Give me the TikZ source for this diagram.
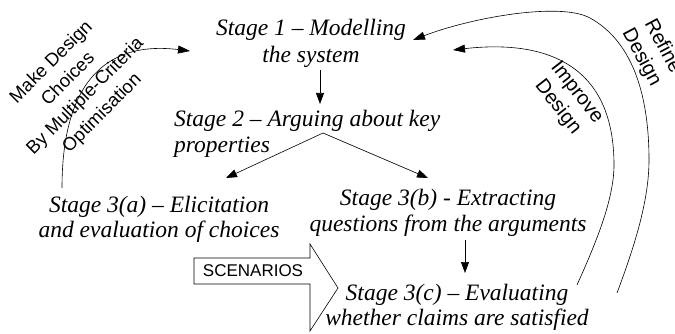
\documentclass[tikz,border=0pt]{standalone}
\usepackage{fontspec}
\setmainfont{Liberation Serif}
\newfontfamily\labelsans{Liberation Sans}
\usetikzlibrary{arrows.meta}

\begin{document}
\begin{tikzpicture}[x=1pt,y=-1pt,
  stage/.style={font=\fontsize{23.5}{#1}\selectfont\itshape, inner sep=0pt, align=center},
  stage/.default=26,
  note/.style={font=\labelsans\fontsize{#1}{24}\selectfont, inner sep=0pt, align=center},
  note/.default=17,
  arr/.style={-{Triangle[length=11pt,width=8pt]}, line width=0.6pt},
  loop/.style={-{Triangle[length=12pt,width=8pt]}, line width=0.6pt}]
\useasboundingbox (0,0) rectangle (675,334);

% stages
\node[stage=27] (s1) at (311,43) {Stage 1 -- Modelling\\the system};
\node[stage=26, anchor=west, align=left] (s2) at (174,133.5) {Stage 2 -- Arguing about key\\properties};
\node[stage=25] (s3a) at (159,219) {Stage 3(a) -- Elicitation\\and evaluation of choices};
\node[stage=26] (s3b) at (448,212.5) {Stage 3(b) - Extracting\\questions from the arguments};
\node[stage=25] (s3c) at (457,307) {Stage 3(c) -- Evaluating\\whether claims are satisfied};

% straight arrows between stages
\coordinate (s1out) at (320,70);
\coordinate (s2in) at (320,104);
\coordinate (split) at (323,133);
\coordinate (s3ain) at (226,178);
\coordinate (s3bin) at (428,178);
\coordinate (s3bout) at (465,240);
\coordinate (s3cin) at (465,273);
\draw[arr] (s1out) -- (s2in);
\draw[arr] (split) -- (s3ain);
\draw[arr] (split) -- (s3bin);
\draw[arr] (s3bout) -- (s3cin);

% feedback loops back to stage 1
\coordinate (optstart) at (62,188);
\coordinate (optend) at (190,51);
\draw[loop] (optstart) .. controls (62,90) and (100,40) .. (optend);

\coordinate (impstart) at (577,285);
\coordinate (impmid) at (614,165);
\coordinate (impend) at (453,50);
\draw[loop] (impstart) .. controls (595,245) and (614,200) .. (impmid)
  .. controls (614,60) and (540,40) .. (impend);

\coordinate (refstart) at (617,293);
\coordinate (refmid) at (649,160);
\coordinate (reftop) at (590,18);
\coordinate (refend) at (413,40);
\draw[loop] (refstart) .. controls (635,245) and (649,200) .. (refmid)
  .. controls (649,90) and (630,40) .. (reftop)
  .. controls (560,1.5) and (470,18) .. (refend);

% loop labels
\node[note=18.5, rotate=45] (optlabel) at (77,88) {Make Design\\Choices\\By Multiple-Criteria\\Optimisation};
\node[note=20, rotate=-52] (implabel) at (567,100) {Improve\\Design};
\node[note=20, rotate=-62] (reflabel) at (652,52) {Refine\\Design};

% scenario input arrow
\draw[line width=0.6pt] (194,258) -- (310,258) -- (310,244) -- (338,288)
  -- (310,331) -- (310,284) -- (194,284) -- cycle;
\node[note] (scen) at (253,271) {SCENARIOS};
\end{tikzpicture}
\end{document}
